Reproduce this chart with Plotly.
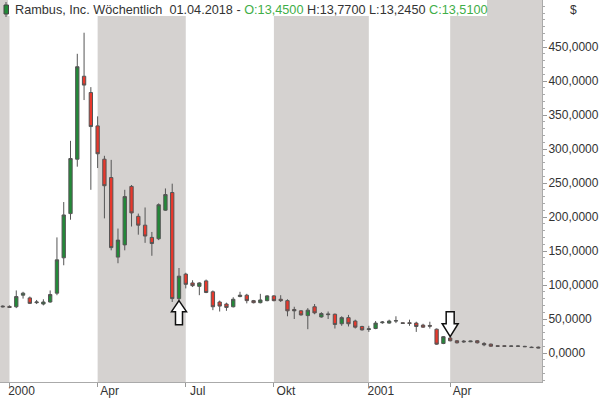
import pandas as pd
import plotly.graph_objects as go

# ---------------- data ----------------
start_week = "1999-12-27"
opens  = [69, 68.5, 68, 85, 81, 74, 72, 75, 88, 140, 205, 285, 407, 383, 334, 285, 258, 141, 159, 245,
          201, 188, 170, 168, 210, 236, 80, 116, 103, 98, 106, 90, 75, 72, 68, 83, 85, 77, 74, 77,
          84, 79, 77, 64, 62, 55, 68, 53, 57.5, 57, 43, 52, 47, 39, 34.5, 36, 44.5, 44, 47, 44.5,
          44.5, 44, 41, 40.5, 35, 14, 22, 18, 17.5, 16.5, 18, 14, 13, 10.5, 10.5, 10.3, 10.3, 9.8, 8.6, 8.6]
highs  = [70, 70, 92, 90, 83, 78, 79, 92, 170, 222, 312, 440, 471, 391, 348, 290, 284, 183, 240, 247,
          205, 214, 178, 220, 242, 249, 125, 118, 107, 104, 108, 92, 77, 74, 82, 90, 87, 78, 87, 85,
          85, 85, 79, 68, 63, 66, 72, 60, 61, 58, 54, 56, 49, 40, 40, 47, 47, 49, 54, 45,
          49, 46, 43, 46, 36, 25, 23, 19, 19, 18, 19, 16, 14, 11, 11, 11, 11, 10.5, 9.5, 9.5]
lows   = [67, 66.5, 66, 80, 72, 72, 70, 74, 85, 129, 196, 274, 372, 240, 272, 198, 151, 132, 151, 186,
          174, 162, 143, 166, 209, 75, 78, 95, 97, 85, 88, 63, 61, 62, 67, 82, 73, 73, 73, 76,
          76, 75, 54, 50, 55, 35, 57, 52, 50, 36, 40, 39, 36, 33, 31, 35, 43, 43, 44, 43,
          40, 31, 37, 36, 12, 13, 17, 14, 15, 16, 14, 10, 9, 9, 9, 9, 9, 8.8, 7.5, 7]
closes = [68, 67, 83, 88, 73, 75, 75, 86, 137, 203, 286, 421, 394, 333, 293, 246, 155, 166, 230, 206,
          188, 172, 161, 218, 233, 80, 113, 101, 99, 103, 89, 68, 69, 67, 79, 85, 77, 74, 78, 84,
          77, 77, 62, 62, 56, 63, 59, 58, 56.5, 42, 52, 43, 38, 34, 35.5, 44, 45.5, 47, 47.5, 43.5,
          43.5, 39, 38, 39.5, 13, 24, 18, 15, 16.5, 17.5, 15, 12, 10, 10, 10, 10, 10, 9.3, 8, 7.5]

tick_dates  = ["2000-01-03", "2000-04-03", "2000-07-03", "2000-10-02", "2001-01-08", "2001-04-02"]
tick_labels = ["2000", "Apr", "Jul", "Okt", "2001", "Apr"]
y_ticks = [0, 50, 100, 150, 200, 250, 300, 350, 400, 450]

# shaded quarters (start, end); None = axis edge
band_starts = [None, "2000-04-03", "2000-10-02", "2001-04-02"]
band_ends   = ["2000-01-03", "2000-07-03", "2001-01-08", None]

up_arrow_week = 26     # index of bar under which the up arrow points
down_arrow_week = 66   # index of bar above which the down arrow points

title_parts = ["Rambus, Inc. Wöchentlich\u00a0\u00a001.04.2018 - ", "O:13,4500", " H:13,7700 L:13,2450 ", "C:13,5100"]

# ---------------- figure ----------------
dates = pd.date_range(start_week, periods=len(opens), freq="7D")
x_start = dates[0] - pd.Timedelta(days=2.8)
x_end = dates[0] + pd.Timedelta(days=556.8)

W, H = 600, 398
ML, MR, MT, MB = 0, 58, 0, 16
PW, PH = W - ML - MR, H - MT - MB

def px(xp):
    return (xp - ML) / PW

def py(yp):
    return (H - MB - yp) / PH

GREEN = "#228a38"
RED = "#e8382c"
TXT = "#333333"
BAND = "#d5d2d0"

fig = go.Figure()
fig.add_trace(go.Candlestick(
    x=dates, open=opens, high=highs, low=lows, close=closes,
    increasing=dict(fillcolor=GREEN, line=dict(color="#555555", width=1)),
    decreasing=dict(fillcolor=RED, line=dict(color="#555555", width=1)),
    whiskerwidth=0, hoverinfo="skip", showlegend=False,
))

shapes = []
for s, e in zip(band_starts, band_ends):
    shapes.append(dict(type="rect", xref="x", yref="paper",
                       x0=s if s else x_start, x1=e if e else x_end, y0=0, y1=1,
                       fillcolor=BAND, line=dict(width=0), layer="below"))
# white title strip
shapes.append(dict(type="rect", xref="paper", yref="paper", x0=px(8), x1=px(487), y0=py(16), y1=1.0,
                   fillcolor="white", line=dict(width=0), layer="below"))
# title icon (small candle)
shapes.append(dict(type="line", xref="paper", yref="paper", x0=px(6), x1=px(6), y0=py(17), y1=py(2),
                   line=dict(color="#555555", width=1)))
shapes.append(dict(type="rect", xref="paper", yref="paper", x0=px(4), x1=px(8.5), y0=py(14), y1=py(5),
                   fillcolor=GREEN, line=dict(color="#444444", width=1)))

# arrows (pixel-sized, anchored to candles)
up_path = "M0,0 L7.5,-11 L3.5,-11 L3.5,-24 L-3.5,-24 L-3.5,-11 L-7.5,-11 Z"
down_path = "M0,0 L8,13 L4,13 L4,25 L-4,25 L-4,13 L-8,13 Z"
shapes.append(dict(type="path", xref="x", yref="y", xsizemode="pixel", ysizemode="pixel",
                   xanchor=dates[up_arrow_week], yanchor=lows[up_arrow_week] - 1, path=up_path,
                   fillcolor="white", line=dict(color="#111111", width=1.5), layer="above"))
shapes.append(dict(type="path", xref="x", yref="y", xsizemode="pixel", ysizemode="pixel",
                   xanchor=dates[down_arrow_week], yanchor=highs[down_arrow_week] + 1, path=down_path,
                   fillcolor="white", line=dict(color="#111111", width=1.5), layer="above"))

title_html = (title_parts[0] + f"<span style='color:#3fae48'>{title_parts[1]}</span>"
              + title_parts[2] + f"<span style='color:#3fae48'>{title_parts[3]}</span>")

annotations = [
    dict(text=title_html, xref="paper", yref="paper", x=px(13), y=py(9.5), xanchor="left", yanchor="middle",
         showarrow=False, font=dict(family="Liberation Sans, Arial", size=12.7, color=TXT)),
    dict(text="$", xref="paper", yref="paper", x=px(573), y=py(10), xanchor="center", yanchor="middle",
         showarrow=False, font=dict(family="Liberation Sans, Arial", size=12, color=TXT)),
]

y_top = 353 * 50 / 34
y_bot = (353 - 382) * 50 / 34

fig.update_layout(
    width=W, height=H,
    margin=dict(l=ML, r=MR, t=MT, b=MB, autoexpand=False),
    paper_bgcolor="white", plot_bgcolor="white",
    separators=",.",
    shapes=shapes, annotations=annotations,
    font=dict(family="Liberation Sans, Arial", size=12, color=TXT),
    xaxis=dict(
        type="date", range=[x_start, x_end], rangeslider=dict(visible=False),
        tickmode="array", tickvals=tick_dates, ticktext=tick_labels,
        ticks="outside", ticklen=4, tickcolor="#999999", ticklabelshift=12, ticklabelstandoff=-6,
        showgrid=False, zeroline=False, showline=True, linecolor="#aaaaaa", linewidth=1,
        tickfont=dict(size=12, color=TXT), automargin=False,
    ),
    yaxis=dict(
        side="right", range=[y_bot, y_top], tickmode="array", tickvals=y_ticks, tickformat=".4f",
        ticks="outside", ticklen=4, tickcolor="#999999", ticklabelstandoff=-1,
        minor=dict(dtick=10, tick0=0, ticks="outside", ticklen=2, tickcolor="#aaaaaa"),
        showgrid=False, zeroline=False, showline=True, linecolor="#aaaaaa", linewidth=1,
        tickfont=dict(size=12, color=TXT), automargin=False,
    ),
)

fig.write_html("out.html", post_script="document.body.style.margin='0';",
               config={"displayModeBar": False, "staticPlot": True})
